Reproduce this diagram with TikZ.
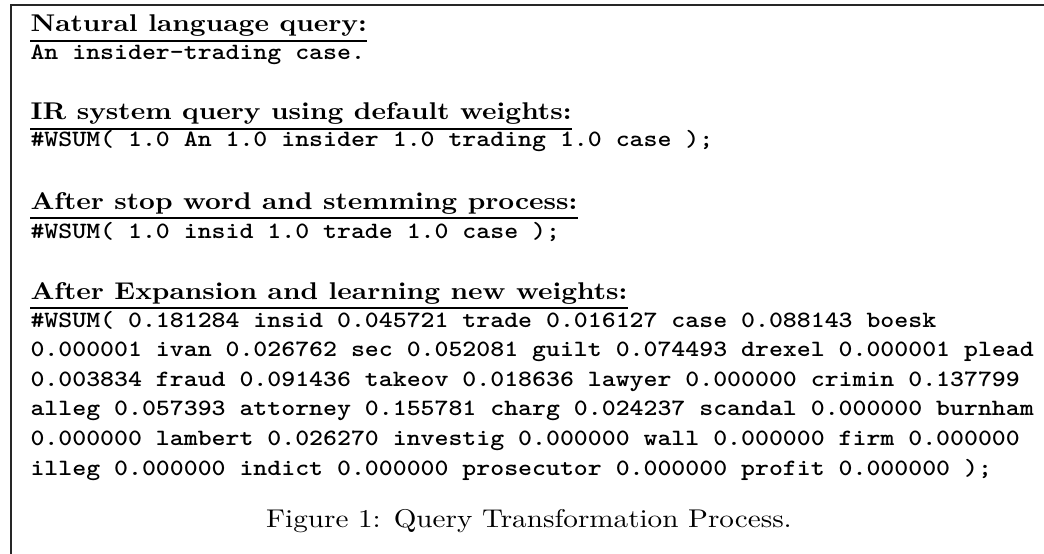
\documentclass[tikz,border=0pt]{standalone}
\usepackage{graphicx}
\newcommand{\squash}[1]{\scalebox{1}[0.88]{#1}}
\begin{document}
\begin{tikzpicture}[
			x=0.3636pt, y=-0.3636pt,
			frame/.style={line width=0.7pt, black!85},
			head/.style={anchor=base west, inner xsep=0pt, inner ysep=1.38pt, font=\bfseries},
			rule/.style={line width=0.7pt},
			qline/.style={anchor=base west, inner sep=0pt, font=\fontsize{9.65}{11}\selectfont\ttfamily\bfseries},
			capt/.style={anchor=base, inner sep=0pt, font=\fontsize{10.6}{12}\selectfont}
		]
		\useasboundingbox (0,0) rectangle (1044,553);
		\draw[frame] (11,570) |- (1060,5);

		\node[head] (nlq) at (30,31.7) {\squash{Natural language query:}};
		\draw[rule] (nlq.south west) -- (nlq.south east);
		\node[qline] (nlqtext) at (30,60) {\squash{An insider-trading case.}};

		\node[head] (irq) at (30,119.5) {\squash{IR system query using default weights:}};
		\draw[rule] (irq.south west) -- (irq.south east);
		\node[qline] (irqtext) at (30,147) {\squash{\#WSUM( 1.0 An 1.0 insider 1.0 trading 1.0 case );}};

		\node[head] (stem) at (30,209) {\squash{After stop word and stemming process:}};
		\draw[rule] (stem.south west) -- (stem.south east);
		\node[qline] (stemtext) at (30,238.5) {\squash{\#WSUM( 1.0 insid 1.0 trade 1.0 case );}};

		\node[head] (expn) at (30,299) {\squash{After Expansion and learning new weights:}};
		\draw[rule] (expn.south west) -- (expn.south east);
		\node[qline] (expa) at (30,327) {\squash{\#WSUM( 0.181284 insid 0.045721 trade 0.016127 case 0.088143 boesk}};
		\node[qline] (expb) at (30,356.6) {\squash{0.000001 ivan 0.026762 sec 0.052081 guilt 0.074493 drexel 0.000001 plead}};
		\node[qline] (expc) at (30,386.2) {\squash{0.003834 fraud 0.091436 takeov 0.018636 lawyer 0.000000 crimin 0.137799}};
		\node[qline] (expd) at (30,415.8) {\squash{alleg 0.057393 attorney 0.155781 charg 0.024237 scandal 0.000000 burnham}};
		\node[qline] (expe) at (30,445.4) {\squash{0.000000 lambert 0.026270 investig 0.000000 wall 0.000000 firm 0.000000}};
		\node[qline] (expf) at (30,475) {\squash{illeg 0.000000 indict 0.000000 prosecutor 0.000000 profit 0.000000 );}};

		\node[capt] (fig) at (529,527) {\squash{Figure 1: Query Transformation Process.}};
	\end{tikzpicture}
\end{document}
